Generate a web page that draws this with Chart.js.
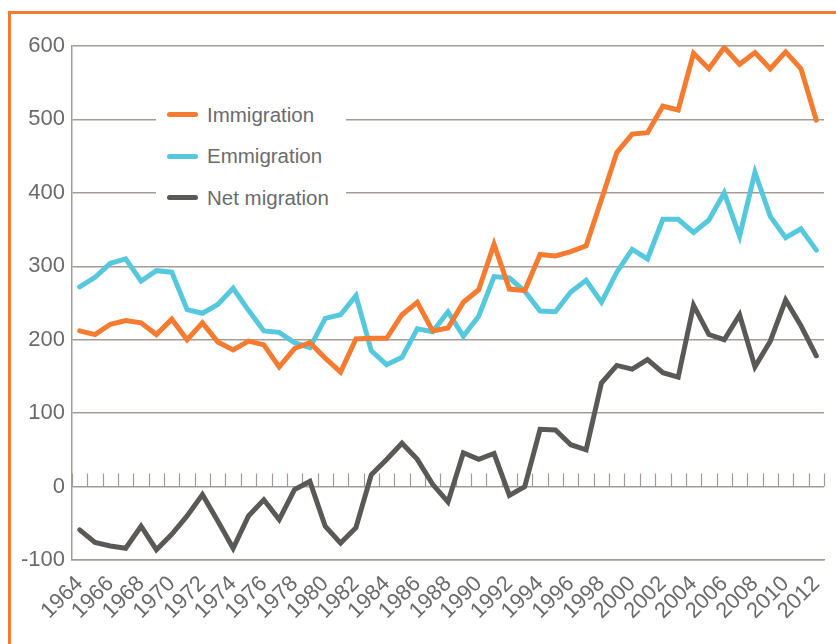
<!DOCTYPE html>
<html>
<head>
<meta charset="utf-8">
<script src="https://cdn.jsdelivr.net/npm/chart.js@4/dist/chart.umd.min.js"></script>
<style>
  html, body { margin: 0; padding: 0; background: #fff; }
  #wrap { position: relative; width: 836px; height: 644px; overflow: hidden; }
  #frame {
    position: absolute; left: 8px; top: 11px; right: 0; bottom: 0;
    border-left: 3px solid #f47b33; border-top: 3px solid #f47b33;
  }
  #chart { position: absolute; left: 0; top: 0; }
  #legend {
    position: absolute; left: 156px; top: 94px; width: 190px;
    background: #fff; padding: 0 0 0 11px; box-sizing: border-box;
    font-family: "Liberation Sans", Arial, sans-serif; font-size: 20.5px; color: #6b6b6b;
  }
  #legend .item { height: 41.5px; display: flex; align-items: center; }
  #legend .swatch { width: 31px; height: 5px; border-radius: 3px; margin-right: 9px; }
</style>
</head>
<body>
<div id="wrap">
  <div id="frame"></div>
  <canvas id="chart" width="836" height="644"></canvas>
  <div id="legend"></div>
</div>
<script>
// data (thousands)
const years = [];
for (let y = 1964; y <= 2012; y++) years.push(String(y));

const immigration = [212, 207, 221, 226, 223, 207, 228, 200, 223, 197, 186, 198,
    193, 163, 188, 196, 175, 156, 201, 202, 202, 234, 251, 212, 216, 251,
    268, 330, 269, 267, 316, 314, 320, 328, 391, 455, 480, 482, 518, 513,
    590, 569, 598, 575, 591, 569, 592, 569, 499];

const emmigration = [272, 285, 304, 310, 280, 294, 292, 241, 236, 248, 270, 240,
    212, 210, 196, 189, 229, 234, 260, 185, 166, 176, 215, 211, 238, 205,
    232, 286, 284, 266, 239, 238, 265, 281, 251, 292, 323, 310, 364, 364,
    346, 363, 400, 341, 428, 368, 339, 351, 322];

const netMigration = [-59, -76, -81, -84, -54, -86, -65, -40, -11, -47, -84, -40,
    -18, -45, -4, 7, -54, -77, -56, 16, 37, 59, 37, 3, -21, 46,
    37, 45, -12, 0, 78, 77, 57, 50, 141, 165, 160, 173, 155, 149,
    247, 207, 200, 234, 163, 198, 254, 219, 178];

const yTicks = [-100, 0, 100, 200, 300, 400, 500, 600];

const seriesNames = ['Immigration', 'Emmigration', 'Net migration'];
const seriesColors = ['#f47b30', '#56c8dd', '#5a5958'];

const axisColor = '#a39b96';
const textColor = '#6b6b6b';
const fontFamily = '"Liberation Sans", Arial, sans-serif';

// small upward tick marks along the zero line, at category boundaries
const zeroTicks = {
    id: 'zeroTicks',
    beforeDatasetsDraw(chart) {
        const xs = chart.scales.x, ys = chart.scales.y;
        const y0 = ys.getPixelForValue(0);
        const ctx = chart.ctx;
        ctx.save();
        ctx.strokeStyle = axisColor;
        ctx.lineWidth = 1.2;
        ctx.beginPath();
        for (let i = 0; i <= years.length; i++) {
            const x = Math.round(xs.getPixelForValue(i - 0.5)) + 0.5;
            ctx.moveTo(x, y0);
            ctx.lineTo(x, y0 - 13);
        }
        ctx.stroke();
        ctx.restore();
    }
};

const datasets = [immigration, emmigration, netMigration].map((d, i) => ({
    label: seriesNames[i],
    data: d,
    borderColor: seriesColors[i],
    backgroundColor: seriesColors[i],
    borderWidth: 5,
    pointRadius: 0,
    tension: 0,
    borderCapStyle: 'round',
    borderJoinStyle: 'miter',
    fill: false
}));

new Chart(document.getElementById('chart'), {
    type: 'line',
    data: { labels: years, datasets: datasets },
    options: {
        responsive: false,
        animation: false,
        layout: { padding: { left: 0, right: 12, top: 46, bottom: 0 } },
        plugins: {
            legend: { display: false },
            tooltip: { enabled: false }
        },
        scales: {
            x: {
                offset: true,
                grid: { display: false, drawTicks: false },
                border: { display: true, color: axisColor, width: 1.5 },
                ticks: {
                    autoSkip: false,
                    minRotation: 45,
                    maxRotation: 45,
                    padding: 11,
                    color: textColor,
                    font: { family: fontFamily, size: 22 },
                    callback: (v, i) => (i % 2 === 0 ? years[i] : null)
                },
                afterFit: (scale) => {
                    scale.height = 84;
                    scale.paddingLeft = 0;
                    scale.paddingRight = 0;
                }
            },
            y: {
                min: yTicks[0],
                max: yTicks[yTicks.length - 1],
                afterBuildTicks: (scale) => { scale.ticks = yTicks.map(v => ({ value: v })); },
                grid: { color: axisColor, lineWidth: 1.5, drawTicks: false },
                border: { display: true, color: axisColor, width: 1.5 },
                ticks: {
                    padding: 7,
                    color: textColor,
                    font: { family: fontFamily, size: 22 }
                },
                afterFit: (scale) => { scale.width = 72; }
            }
        }
    },
    plugins: [zeroTicks]
});

// legend drawn as html over the plot (white box hides the grid lines)
const legendBox = document.getElementById('legend');
seriesNames.forEach((name, i) => {
    const item = document.createElement('div');
    item.className = 'item';
    item.innerHTML = '<span class="swatch" style="background:' + seriesColors[i] + '"></span>' + name;
    legendBox.appendChild(item);
});
</script>
</body>
</html>
